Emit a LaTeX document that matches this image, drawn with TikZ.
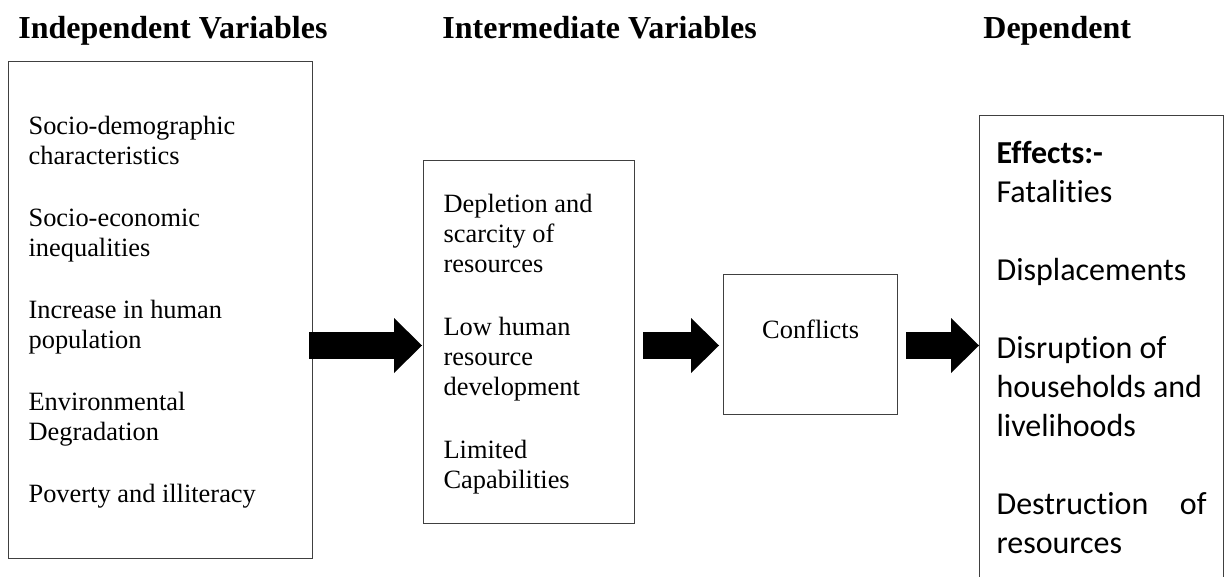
\documentclass[tikz,border=0pt]{standalone}
\usepackage{fontspec}
\setmainfont{Liberation Serif}
\newfontfamily\calibrifont[Ligatures={NoCommon,NoContextual}]{Carlito}
\usetikzlibrary{arrows.meta}

\begin{document}
\begin{tikzpicture}[x=0.5pt,y=-0.5pt,
  varbox/.style={draw=black!75,line width=0.6pt,anchor=north west,inner ysep=0pt,align=flush left,
    font=\fontsize{13.2pt}{15pt}\selectfont},
  heading/.style={anchor=base west,inner sep=0pt,font=\fontsize{16pt}{19pt}\selectfont\bfseries},
  bigarrow/.style={line width=13.5pt,-{Triangle[length=14pt,width=27.5pt,line width=0pt]}}]

\useasboundingbox (0,0) rectangle (1225,577);

% headings
\node[heading] (hindep) at (18,39) {Independent Variables};
\node[heading] (hinter) at (442,39) {Intermediate Variables};
\node[heading] (hdep) at (983,39) {Dependent};

% boxes
\node[varbox,inner xsep=10pt,text width=132pt,text height=36.5pt,text depth=212pt] (indep) at (8,61)
  {Socio-demographic\\characteristics\\[16pt]
   Socio-economic\\inequalities\\[16pt]
   Increase in human\\population\\[16pt]
   Environmental\\Degradation\\[16pt]
   Poverty and illiteracy};

\node[varbox,inner xsep=10pt,text width=85.5pt,text height=26pt,text depth=155.5pt] (inter) at (423,160)
  {Depletion and\\scarcity of\\resources\\[16.5pt]
   Low human\\resource\\development\\[16.5pt]
   Limited\\Capabilities};

\node[varbox,align=center,inner xsep=0pt,text width=87pt,text height=32pt,text depth=38pt] (conf) at (723,274) {Conflicts};

\node[varbox,inner xsep=8.5pt,text width=105pt,text height=24pt,text depth=245pt,
  font=\calibrifont\fontsize{16pt}{19.5pt}\selectfont] (effects) at (979,115)
  {{\bfseries Effects:-}\\Fatalities\\[19.5pt]
   Displacements\\[19.5pt]
   Disruption of\\households and\\livelihoods\\[19.5pt]
   Destruction\hfill of\\resources};

% arrows
\coordinate (row) at (0,345.5);
\draw[bigarrow,shorten <=-2pt,shorten >=0.5pt] (indep.east |- row) -- (inter.west |- row);
\draw[bigarrow,shorten <=4pt,shorten >=2pt] (inter.east |- row) -- (conf.west |- row);
\draw[bigarrow,shorten <=4pt] (conf.east |- row) -- (effects.west |- row);
\end{tikzpicture}
\end{document}
